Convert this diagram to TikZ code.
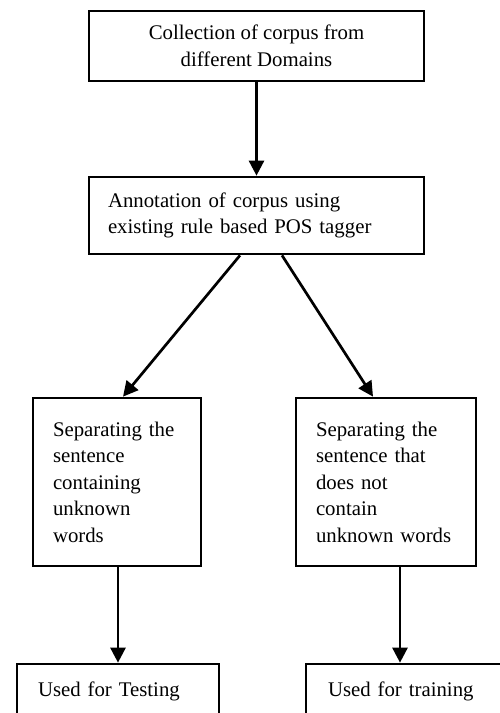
\documentclass[tikz,border=0pt]{standalone}
\usepackage{fontspec}
\setmainfont{Liberation Serif}
\usetikzlibrary{arrows.meta}
\tikzset{
    box/.style={draw, line width=2.7pt, rectangle, inner sep=0pt},
    flow/.style={line width=2.7pt, -{Triangle[length=15pt,width=15pt]}}
}
\begin{document}
\begin{tikzpicture}[x=1pt, y=-1pt, font=\fontsize{20.8}{26.5}\selectfont]
        \clip (0,0) rectangle (500,713);
        \node[box, minimum width=335pt, minimum height=70pt, align=center] (collect) at (256.5,46) {Collection of corpus from\\different Domains};
        \node[box, minimum width=335pt, minimum height=77pt, text width=297pt, align=left] (annot) at (256.5,215.5) {Annotation of corpus using\\existing rule based POS tagger};
        \node[box, minimum width=168pt, minimum height=168pt, text width=128pt, align=left] (sepA) at (117,482) {Separating the\\sentence\\containing\\unknown\\words};
        \node[box, minimum width=180pt, minimum height=168pt, text width=140pt, align=left] (sepB) at (386,482) {Separating the\\sentence that\\does not\\contain\\unknown words};
        \node[box, minimum width=202pt, minimum height=54pt, text width=160pt, align=left] (test) at (118,691) {Used for Testing};
        \node[box, minimum width=214pt, minimum height=54pt, text width=170pt, align=left] (train) at (413,691) {Used for training};
        % connectors
        \draw[flow] (collect.south) -- (annot.north);
        \draw[flow] ([xshift=-16.5pt]annot.south) -- ([xshift=6pt]sepA.north);
        \draw[flow] ([xshift=25.5pt]annot.south) -- ([xshift=-13pt]sepB.north);
        \draw[flow] (test.north |- sepA.south) -- (test.north);
        \draw[flow] ([xshift=14pt]sepB.south) -- ([xshift=-13pt]train.north);
    \end{tikzpicture}
\end{document}
